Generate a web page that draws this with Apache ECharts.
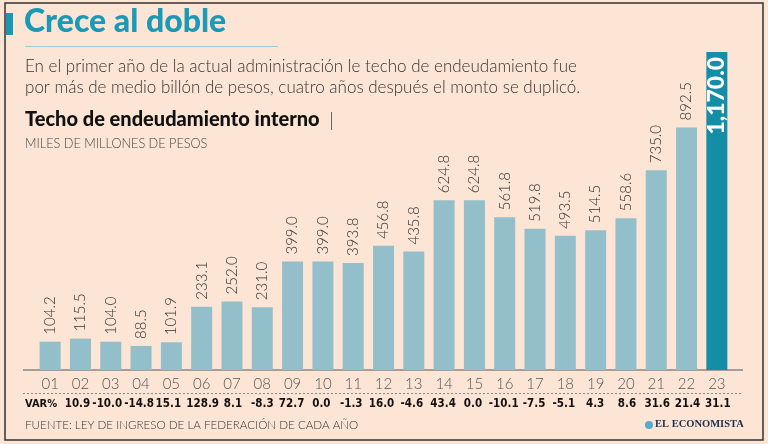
<!DOCTYPE html>
<html><head><meta charset="utf-8">
<script src="https://cdn.jsdelivr.net/npm/echarts@6/dist/echarts.min.js"></script>
<style>html,body{margin:0;padding:0;background:#fde5d5;}#c{width:768px;height:444px;}</style>
</head><body><div id="c"></div>
<script>
const categories = ['01','02','03','04','05','06','07','08','09','10','11','12','13','14','15','16','17','18','19','20','21','22','23'];
const values = [104.2,115.5,104.0,88.5,101.9,233.1,252.0,231.0,399.0,399.0,393.8,456.8,435.8,624.8,624.8,561.8,519.8,493.5,514.5,558.6,735.0,892.5,1170.0];
// VAR% for years 02..23 (no value for 01)
const varPct = ['','10.9','-10.0','-14.8','15.1','128.9','8.1','-8.3','72.7','0.0','-1.3','16.0','-4.6','43.4','0.0','-10.1','-7.5','-5.1','4.3','8.6','31.6','21.4','31.1'];
// horizontal nudge of the VAR% text row (layout only)
const varNudge = [0,-6,-7,-4,-6,2,2,0,-2,-3,-4,-4,-4,-2,-3,-2,-2,-3,-1,2,2,2,2];

const light = '#92bfca', dark = '#138ea6';
const thin = "'Lato','Open Sans',sans-serif";
const narrow = "'Liberation Sans Narrow','DejaVu Sans Condensed','Roboto',sans-serif";
const chart = echarts.init(document.getElementById('c'), null, {renderer:'canvas'});
const n = categories.length;
chart.setOption({
  backgroundColor: '#fde5d5',
  animation: false,
  grid: {left: 35, right: 36, top: 52, bottom: 74},
  xAxis: [{
    type: 'category', data: categories, position: 'bottom',
    axisLine: {show: false}, axisTick: {show: false},
    axisLabel: {color: '#555', fontSize: 15, fontFamily: thin, fontWeight: 300, margin: 7}
  },{
    type: 'category', position: 'bottom', offset: 22,
    data: varPct.map((t, i) => ({value: t, textStyle: {padding: varNudge[i] < 0 ? [0, -varNudge[i], 0, 0] : [0, 0, 0, varNudge[i]]}})),
    axisLine: {show: false}, axisTick: {show: false},
    axisLabel: {color: '#111', fontSize: 11.5, fontWeight: 'bold', fontFamily: narrow, margin: 6, interval: 0, hideOverlap: false}
  }],
  yAxis: {type: 'value', min: 0, max: 1170, show: false, splitLine: {show: false}},
  series: [{
    type: 'bar', barWidth: 21, xAxisIndex: 0,
    data: values.map((v, i) => i === n - 1 ? {
      value: v, itemStyle: {color: dark},
      label: {position: 'insideTop', rotate: 90, align: 'right', verticalAlign: 'middle', distance: 5,
        color: '#fff', fontSize: 23, fontWeight: 900, fontFamily: "'Lato','DejaVu Sans',sans-serif",
        formatter: p => p.value.toLocaleString('en-US', {minimumFractionDigits: 1, maximumFractionDigits: 1})}
    } : v),
    itemStyle: {color: light},
    label: {show: true, position: 'top', rotate: 90, align: 'left', verticalAlign: 'middle', distance: 7,
      color: '#333', fontSize: 15, fontFamily: thin, fontWeight: 300,
      formatter: p => p.value.toFixed(1)}
  }],
  graphic: [
    {type: 'rect', shape: {x: 5, y: 3, width: 758, height: 437}, style: {fill: 'none', stroke: '#333', lineWidth: 1.5}, silent: true},
    {type: 'rect', shape: {x: 6, y: 13, width: 7, height: 22}, style: {fill: '#1a97b2'}},
    {type: 'text', left: 24, top: 6, style: {text: 'Crece al doble', fill: '#1a9ab6', font: "900 32px 'Lato','DejaVu Sans',sans-serif"}},
    {type: 'line', shape: {x1: 25, y1: 46.5, x2: 278, y2: 46.5}, style: {stroke: '#9ccbd6', lineWidth: 1}},
    {type: 'text', left: 25, top: 58, style: {text: 'En el primer año de la actual administración le techo de endeudamiento fue', fill: '#333', font: "300 17px 'Lato',sans-serif"}},
    {type: 'text', left: 25, top: 79, style: {text: 'por más de medio billón de pesos, cuatro años después el monto se duplicó.', fill: '#333', font: "300 17px 'Lato',sans-serif"}},
    {type: 'text', left: 25, top: 110, style: {text: 'Techo de endeudamiento interno', fill: '#111', font: "900 20px 'Lato','DejaVu Sans',sans-serif"}},
    {type: 'line', shape: {x1: 331.5, y1: 112, x2: 331.5, y2: 130}, style: {stroke: '#666', lineWidth: 1}},
    {type: 'text', left: 25, top: 137, style: {text: 'MILES DE MILLONES DE PESOS', fill: '#444', font: "300 12.7px 'Lato',sans-serif"}},
    {type: 'line', shape: {x1: 23, y1: 370, x2: 743, y2: 370}, style: {stroke: '#555', lineWidth: 1}},
    {type: 'line', shape: {x1: 23, y1: 393.5, x2: 743, y2: 393.5}, style: {stroke: '#888', lineWidth: 1, lineDash: [2, 2]}},
    {type: 'text', left: 25, top: 399, style: {text: 'VAR%', fill: '#111', font: "bold 11px " + narrow}},
    {type: 'text', left: 25, top: 419, style: {text: 'FUENTE: LEY DE INGRESO DE LA FEDERACIÓN DE CADA AÑO', fill: '#333', font: "300 11.6px 'Lato',sans-serif"}},
    {type: 'circle', shape: {cx: 649, cy: 425, r: 4}, style: {fill: '#5aa9d0'}},
    {type: 'text', left: 655, top: 419, style: {text: 'EL ECONOMISTA', fill: '#1f2d4a', font: "bold 10.5px 'Liberation Serif','DejaVu Serif',serif"}}
  ]
});
</script></body></html>
